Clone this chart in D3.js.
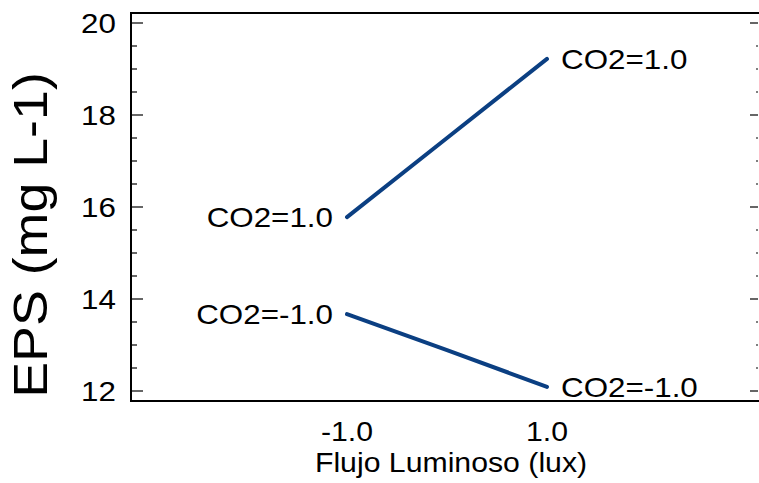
<!DOCTYPE html>
<html>
<head>
<meta charset="utf-8">
<script src="https://cdn.jsdelivr.net/npm/d3@7"></script>
<style>
  body { margin: 0; background: #fff; }
  text { font-family: "Liberation Sans", Arial, sans-serif; fill: #000; }
</style>
</head>
<body>
<script>
// datos
var luz = [-1.0, 0.0, 1.0];
var epsCO2Alto = [15.78, 17.5, 19.22];
var epsCO2Bajo = [13.67, 12.89, 12.09];
var etiquetas = ["CO2=1.0", "CO2=-1.0"];
var xTicks = [-1.0, 1.0];
var yTicks = [12, 14, 16, 18, 20];
var yMinor = d3.range(12, 20.01, 0.5);

var w = 759, h = 483;
var mLeft = 131, mRight = 758, mTop = 13, mBottom = 401;
var stretch = 1.12; // el texto del original es un poco ancho

var svg = d3.select("body").append("svg").attr("width", w).attr("height", h);

var x = d3.scaleLinear().domain([-3.16, 3.11]).range([mLeft, mRight]);
var y = d3.scaleLinear().domain([20, 12]).range([23, 391]);

// texto con estiramiento horizontal
function texto(px, py, str, size, anchor, rot) {
  var t = "translate(" + px + "," + py + ")" + (rot ? " rotate(" + rot + ")" : "") + " scale(" + stretch + ",1)";
  return svg.append("text").attr("transform", t)
    .attr("text-anchor", anchor).style("font-size", size + "px").text(str);
}

// ticks eje izquierdo
svg.selectAll("line.minL").data(yMinor).enter().append("line")
  .attr("x1", mLeft).attr("x2", function (d) { return d % 2 == 0 ? mLeft + 12 : mLeft + 6; })
  .attr("y1", function (d) { return y(d); }).attr("y2", function (d) { return y(d); })
  .attr("stroke", "#000").attr("stroke-width", 1.2);

// eje derecho
svg.selectAll("line.minR").data(yMinor).enter().append("line")
  .attr("x1", mRight).attr("x2", function (d) { return d % 2 == 0 ? mRight - 8 : mRight - 2; })
  .attr("y1", function (d) { return y(d); }).attr("y2", function (d) { return y(d); })
  .attr("stroke", "#000").attr("stroke-width", 1.2);

// marco
svg.append("path")
  .attr("d", "M" + (mRight + 1) + "," + mTop + "H" + mLeft + "V" + mBottom + "H" + (mRight + 1))
  .attr("fill", "none").attr("stroke", "#000").attr("stroke-width", 2);

// etiquetas eje y
yTicks.forEach(function (d) {
  texto(116, y(d) + 10, d, 28, "end");
});

// etiquetas eje x (con guion normal, no signo menos)
xTicks.forEach(function (d) {
  texto(x(d), 441, d.toFixed(1), 27, "middle");
});

texto(451, 472, "Flujo Luminoso (lux)", 27, "middle");
texto(47, 235, "EPS (mg L-1)", 48, "middle", -90);

// lineas
var series = [epsCO2Alto, epsCO2Bajo];
var line = d3.line()
  .x(function (d, i) { return x(luz[i]); })
  .y(function (d) { return y(d); });

series.forEach(function (s, k) {
  svg.append("path").datum(s).attr("d", line)
    .attr("fill", "none").attr("stroke", "#0b3f82")
    .attr("stroke-width", 4).attr("stroke-linecap", "round");

  texto(x(luz[0]) - 14, y(s[0]) + 10, etiquetas[k], 28, "end");
  texto(x(luz[luz.length - 1]) + 14, y(s[s.length - 1]) + 10, etiquetas[k], 28, "start");
});
</script>
</body>
</html>
